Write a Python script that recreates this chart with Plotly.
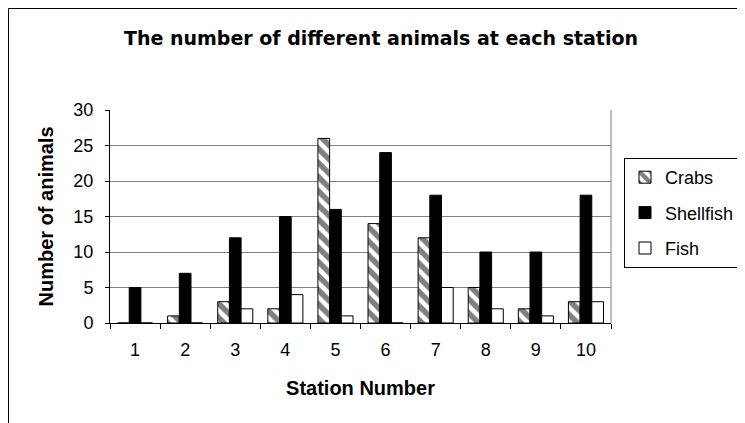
import plotly.graph_objects as go

stations = ["1", "2", "3", "4", "5", "6", "7", "8", "9", "10"]
crabs = [0, 1, 3, 2, 26, 14, 12, 5, 2, 3]
shellfish = [5, 7, 12, 15, 16, 24, 18, 10, 10, 18]
fish = [0, 0, 2, 4, 1, 0, 5, 2, 1, 3]

W, H = 737, 415
L, R, T, B = 102, 134, 102, 100
PW, PH = W - L - R, H - T - B

fig = go.Figure()
fig.add_trace(go.Bar(
    x=stations, y=crabs, name="Crabs", legendgroup="a",
    marker=dict(color="white", line=dict(color="black", width=1),
                pattern=dict(shape="\\", fgcolor="black", bgcolor="white", size=10, solidity=0.55)),
))
fig.add_trace(go.Bar(
    x=stations, y=shellfish, name="Shellfish", legendgroup="b",
    marker=dict(color="black", line=dict(color="black", width=1)),
))
fig.add_trace(go.Bar(
    x=stations, y=fish, name="Fish", legendgroup="c",
    marker=dict(color="white", line=dict(color="black", width=1)),
))

fig.update_layout(
    width=W, height=H,
    margin=dict(l=L, r=R, t=T, b=B, autoexpand=False),
    paper_bgcolor="white", plot_bgcolor="white",
    barmode="group", bargap=0.3, bargroupgap=0,
    font=dict(family="Liberation Sans, Arial", size=18, color="black"),
    title=dict(text="<b>The number of different animals at each station</b>",
               x=373 / W, xref="container", xanchor="center", y=1 - 30 / H, yanchor="middle",
               font=dict(family="DejaVu Sans", size=19)),
    showlegend=True,
    legend=dict(x=(616 - L) / PW, xanchor="left", y=(T + PH - 150) / PH, yanchor="top",
                bordercolor="black", borderwidth=1, bgcolor="white",
                tracegroupgap=9, itemwidth=30, font=dict(size=18)),
    xaxis=dict(
        showline=True, linecolor="black", linewidth=1,
        ticks="outside", ticklen=5, tickcolor="black", tickson="boundaries",
        ticklabelstandoff=10,
        showgrid=False,
        title=dict(text="<b>Station Number</b>", standoff=22, font=dict(size=20)),
        automargin=False,
    ),
    yaxis=dict(
        range=[0, 30], tickvals=[0, 5, 10, 15, 20, 25, 30],
        showline=True, linecolor="black", linewidth=1,
        ticks="outside", ticklen=4, tickcolor="black",
        ticklabelstandoff=8,
        showgrid=True, gridcolor="#808080", gridwidth=1,
        zeroline=False,
        title=dict(text="<b>Number of animals</b>", standoff=14, font=dict(size=20)),
        automargin=False,
    ),
)

fig.add_shape(type="line", xref="x domain", yref="y domain", x0=1, x1=1, y0=0, y1=1,
              line=dict(color="#808080", width=1))
fig.add_shape(type="rect", xref="paper", yref="paper",
              x0=(0.5 - L) / PW, x1=1 + (R + 20) / PW, y0=-(B + 20) / PH, y1=1 + (T - 0.5) / PH,
              line=dict(color="black", width=1), layer="below")

fig.write_html("out.html")
